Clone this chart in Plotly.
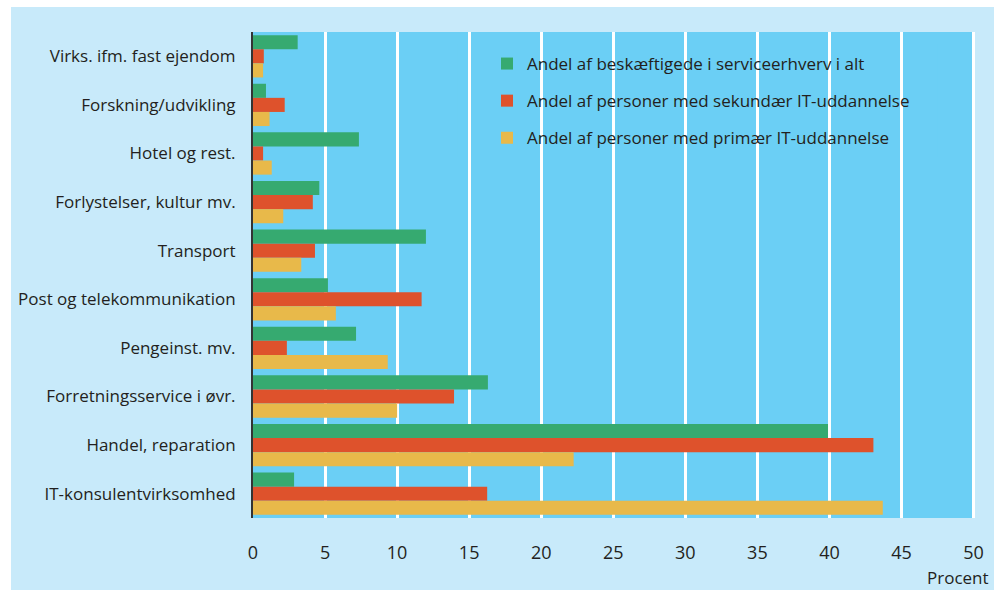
import plotly.graph_objects as go

categories = [
    "Virks. ifm. fast ejendom",
    "Forskning/udvikling",
    "Hotel og rest.",
    "Forlystelser, kultur mv.",
    "Transport",
    "Post og telekommunikation",
    "Pengeinst. mv.",
    "Forretningsservice i øvr.",
    "Handel, reparation",
    "IT-konsulentvirksomhed",
]
series_names = [
    "Andel af beskæftigede i serviceerhverv i alt",
    "Andel af personer med sekundær IT-uddannelse",
    "Andel af personer med primær IT-uddannelse",
]
beskaeftigede = [3.1, 0.9, 7.35, 4.6, 12.0, 5.2, 7.15, 16.3, 39.9, 2.85]
sekundaer = [0.75, 2.2, 0.7, 4.15, 4.3, 11.7, 2.35, 13.95, 43.05, 16.25]
primaer = [0.7, 1.15, 1.3, 2.1, 3.35, 5.75, 9.35, 10.0, 22.25, 43.7]
x_ticks = [0, 5, 10, 15, 20, 25, 30, 35, 40, 45, 50]

colors = ["#36aa70", "#de522c", "#e8b94a"]
FONT = "Open Sans"
TXT = "#231f20"
PLOT_BG = "#6bcff5"
PANEL_BG = "#c8eafa"

fig = go.Figure()
for name, vals, col in zip(series_names, [beskaeftigede, sekundaer, primaer], colors):
    fig.add_trace(go.Bar(
        y=categories, x=vals, orientation="h", name=name,
        marker=dict(color=col, line=dict(width=0)),
        legendgroup=name,
    ))

W, H = 1005, 590
ml, mr, mt, mb = 253, 30, 32, 72
pw, ph = W - ml - mr, H - mt - mb

def px_x(p):
    return (p - ml) / pw

def px_y(p):
    return (H - mb - p) / ph

fig.update_layout(
    width=W, height=H,
    margin=dict(l=ml, r=mr, t=mt, b=mb, pad=0),
    paper_bgcolor="white",
    plot_bgcolor=PLOT_BG,
    barmode="group",
    bargap=0.13,
    bargroupgap=0,
    font=dict(family=FONT, size=17, color=TXT),
    showlegend=True,
    legend=dict(
        x=px_x(487), y=px_y(46), xanchor="left", yanchor="top",
        bgcolor="rgba(0,0,0,0)", traceorder="grouped", tracegroupgap=12,
        font=dict(family=FONT, size=17, color=TXT),
    ),
    xaxis=dict(
        range=[0, 50.1], tickvals=x_ticks, showgrid=True, gridcolor="white",
        gridwidth=2.5, zeroline=False, showline=False, ticks="",
        ticklabelstandoff=22, tickfont=dict(family=FONT, size=18, color=TXT),
        fixedrange=True,
    ),
    yaxis=dict(
        autorange="reversed", showgrid=False, zeroline=False, showline=True,
        linecolor="#333333", linewidth=2, ticks="", ticklabelstandoff=12,
        tickfont=dict(family=FONT, size=17, color=TXT),
    ),
    shapes=[
        dict(type="rect", xref="paper", yref="paper", layer="below",
             x0=px_x(11), x1=px_x(994), y0=px_y(7), y1=px_y(600),
             fillcolor=PANEL_BG, line=dict(width=0)),
        dict(type="rect", xref="paper", yref="paper", layer="below",
             x0=0, x1=1, y0=0, y1=1,
             fillcolor=PLOT_BG, line=dict(width=0)),
        dict(type="rect", xref="x", yref="paper", layer="between",
             x0=14.2, x1=47.5, y0=px_y(157), y1=px_y(44),
             fillcolor=PLOT_BG, line=dict(width=0)),
    ],
    annotations=[
        dict(text="Procent", xref="paper", yref="paper", x=px_x(991), y=px_y(577),
             xanchor="right", yanchor="middle", showarrow=False,
             font=dict(family=FONT, size=17, color=TXT)),
    ],
)

fig.write_html("out.html", post_script="document.body.style.margin='0';",
               config={"displayModeBar": False})
